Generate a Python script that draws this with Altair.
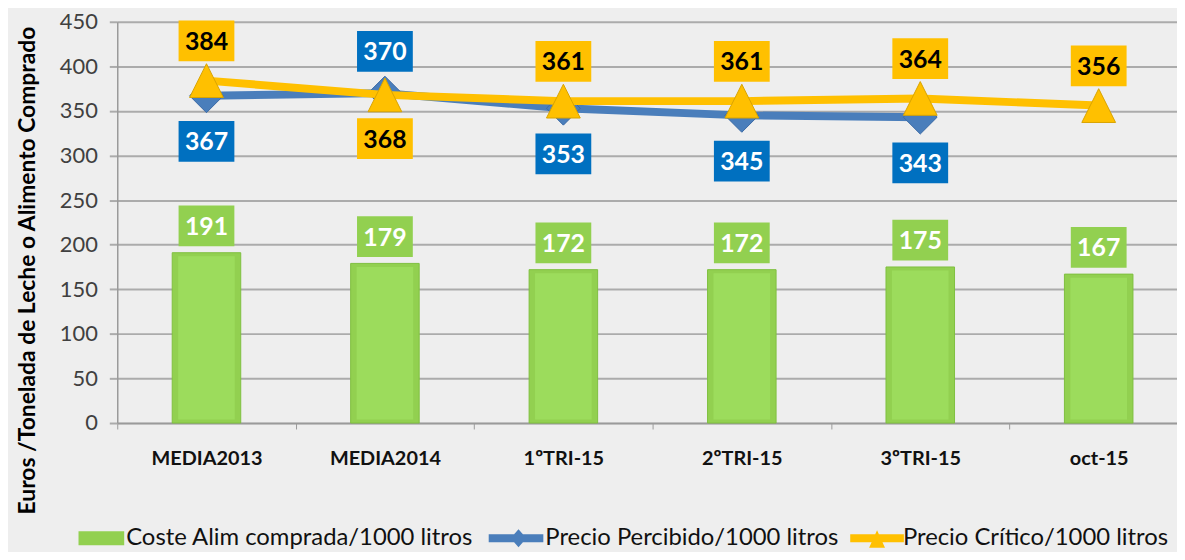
import altair as alt
import numpy as np
import pandas as pd

categorias = ["MEDIA2013", "MEDIA2014", "1ºTRI-15", "2ºTRI-15", "3ºTRI-15", "oct-15"]
coste = [191, 179, 172, 172, 175, 167]
percibido = [367, 370, 353, 345, 343, None]
critico = [384, 368, 361, 361, 364, 356]

serie_coste = "Coste Alim comprada/1000 litros"
serie_percibido = "Precio Percibido/1000 litros"
serie_critico = "Precio Crítico/1000  litros"
titulo_y = "Euros /Tonelada de  Leche o Alimento Comprado"
ticks_y = [0, 50, 100, 150, 200, 250, 300, 350, 400, 450]

FONT = "Lato"
VERDE = "#92D050"
VERDE_BORDE = "#7FBF3F"
VERDE_CLARO = "#9CDC5C"
AZUL_LINEA = "#4A7EBB"
AZUL_ETQ = "#0070C0"
AMARILLO = "#FFC000"
FONDO = "#EEEEEE"

df_bar = pd.DataFrame({"cat": categorias, "valor": coste, "serie": serie_coste})
rows = []
for s, vals in [(serie_percibido, percibido), (serie_critico, critico)]:
    for c, v in zip(categorias, vals):
        if v is not None:
            rows.append({"cat": c, "valor": v, "serie": s})
df_lin = pd.DataFrame(rows)
df_lin["pos"] = np.where(
    df_lin["valor"] == df_lin.groupby("cat")["valor"].transform("max"), "arriba", "abajo"
)
df_b = df_lin[df_lin["serie"] == serie_percibido]
df_y = df_lin[df_lin["serie"] == serie_critico]

x_enc = alt.X(
    "cat:N",
    sort=categorias,
    scale=alt.Scale(domain=categorias, range=[0, 1078], paddingInner=0, paddingOuter=0),
    axis=alt.Axis(
        title=None, labelAngle=0, labelFont=FONT, labelFontSize=20, labelFontWeight="bold",
        labelColor="#111111", labelPadding=20, domainColor="#9a9a9a", domainWidth=1.5,
        tickColor="#9a9a9a", tickBand="extent", tickSize=6, grid=False,
    ),
)
y_enc = alt.Y(
    "valor:Q",
    scale=alt.Scale(domain=[0, 450], nice=False),
    axis=alt.Axis(
        values=ticks_y, title=titulo_y, titleFont=FONT, titleFontSize=23,
        titleFontWeight="bold", titleColor="#000000", titleX=-90, titleY=250,
        titleBaseline="middle", labelFont=FONT, labelFontSize=22, labelColor="#404040",
        labelPadding=12, tickSize=8, tickColor="#ababab", tickWidth=2, domainColor="#9a9a9a",
        domainWidth=1.5, gridColor="#ababab", gridWidth=2,
    ),
)


def leyenda(x, path, label_offset):
    return alt.Legend(
        title=None, orient="none", legendX=x, legendY=508, symbolType=path,
        symbolSize=400, symbolStrokeWidth=0, symbolOpacity=1, labelOffset=label_offset,
        labelFont=FONT, labelFontSize=24, labelColor="#111111", padding=0, labelLimit=600,
    )


barras = alt.Chart(df_bar).mark_bar(size=69, stroke=VERDE_BORDE, strokeWidth=1).encode(
    x=x_enc,
    y=y_enc,
    fill=alt.Fill(
        "serie:N",
        scale=alt.Scale(domain=[serie_coste], range=[VERDE]),
        legend=leyenda(-41, "M-1,-0.7H3.6V0.7H-1Z", 26),
    ),
)
barras_brillo = alt.Chart(df_bar).transform_calculate(
    tope="datum.valor - 4"
).mark_bar(size=57, color=VERDE_CLARO).encode(
    x=x_enc, y=alt.Y("tope:Q", scale=alt.Scale(domain=[0, 450], nice=False)), y2=alt.datum(4)
)

linea_b = alt.Chart(df_b).mark_line(color=AZUL_LINEA, strokeWidth=8).encode(x=x_enc, y=y_enc)
puntos_b = alt.Chart(df_b).mark_point(shape="diamond", filled=True, size=1156, opacity=1,
                                      stroke="#3A6AA5", strokeWidth=1).encode(
    x=x_enc,
    y=y_enc,
    fill=alt.Fill(
        "serie:N",
        scale=alt.Scale(domain=[serie_percibido], range=[AZUL_LINEA]),
        legend=leyenda(372, "M-1,-0.4H4.5V0.4H-1Z M1.2,0L2,-0.9L2.8,0L2,0.9Z", 35),
    ),
)
linea_y = alt.Chart(df_y).mark_line(color=AMARILLO, strokeWidth=8).encode(x=x_enc, y=y_enc)
puntos_y = alt.Chart(df_y).mark_point(shape="M0,-1L1,1H-1Z", filled=True, size=1156, opacity=1,
                                      stroke="#D9A300", strokeWidth=1).encode(
    x=x_enc,
    y=y_enc,
    fill=alt.Fill(
        "serie:N",
        scale=alt.Scale(domain=[serie_critico], range=[AMARILLO]),
        legend=leyenda(736, "M-1,-0.4H4.4V0.4H-1Z M0.9,0.95L1.7,-0.8L2.5,0.95Z", 31),
    ),
)

CAJA = "M-1.37,-1H1.37V1H-1.37Z"
CAJA_SIZE = 1681


def etiquetas(df, fondo, texto, dy):
    base = alt.Chart(df).encode(x=x_enc, y=y_enc)
    caja = base.mark_point(shape=CAJA, size=CAJA_SIZE, filled=True, opacity=1,
                           color=fondo, yOffset=dy)
    txt = base.mark_text(font=FONT, fontSize=25, fontWeight="bold", color=texto,
                         baseline="middle", yOffset=dy + 1).encode(text="valor:Q")
    return [caja, txt]


capas = [barras, barras_brillo, linea_b, puntos_b, linea_y, puntos_y]
capas += etiquetas(df_bar, VERDE, "#FFFFFF", -27)
capas += etiquetas(df_b[df_b["pos"] == "arriba"], AZUL_ETQ, "#FFFFFF", -42)
capas += etiquetas(df_b[df_b["pos"] == "abajo"], AZUL_ETQ, "#FFFFFF", 46)
capas += etiquetas(df_y[df_y["pos"] == "arriba"], AMARILLO, "#000000", -40)
capas += etiquetas(df_y[df_y["pos"] == "abajo"], AMARILLO, "#000000", 44)

chart = (
    alt.layer(*capas)
    .resolve_scale(fill="independent")
    .resolve_legend(fill="independent")
    .properties(
        width=1059,
        height=404,
        autosize=alt.AutoSizeParams(type="none"),
        padding={"left": 110, "top": 12, "right": 8, "bottom": 128},
        background=FONDO,
    )
    .configure_view(stroke=None)
)

chart.save("out.html", embed_options={"renderer": "svg", "actions": False})
